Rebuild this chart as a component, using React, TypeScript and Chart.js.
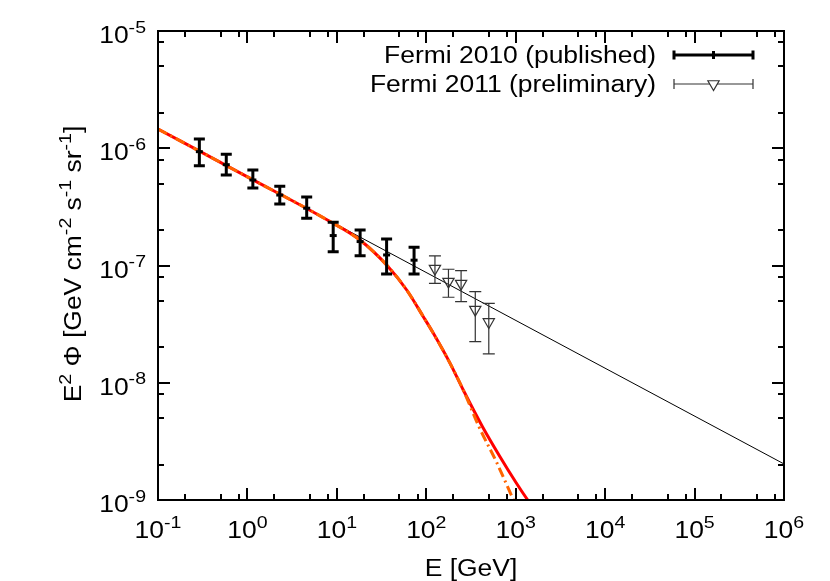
import React, { useEffect, useRef } from "react";
import { Chart, registerables } from "chart.js";
Chart.register(...registerables);

const FONT = '"Liberation Sans", Arial, Helvetica, sans-serif';
const FONT_SIZE = 23;
const STRETCH = 1.15;

// Fermi 2010 (published)
const fermi2010E = [0.29, 0.58, 1.15, 2.3, 4.6, 9.1, 18.2, 36, 73];
const fermi2010Flux = [9.35e-7, 7.24e-7, 5.36e-7, 3.99e-7, 3.08e-7, 1.8e-7, 1.6e-7, 1.23e-7, 1.11e-7];
const fermi2010Lo = [7.1e-7, 5.91e-7, 4.58e-7, 3.35e-7, 2.53e-7, 1.31e-7, 1.21e-7, 8.47e-8, 8.47e-8];
const fermi2010Hi = [1.2e-6, 8.88e-7, 6.53e-7, 4.73e-7, 3.84e-7, 2.34e-7, 2.01e-7, 1.68e-7, 1.43e-7];

// Fermi 2011 (preliminary)
const fermi2011E = [125, 177, 245, 353, 500];
const fermi2011Flux = [9.4e-8, 7.3e-8, 7.0e-8, 4.2e-8, 3.3e-8];
const fermi2011Lo = [7.05e-8, 5.36e-8, 4.91e-8, 2.24e-8, 1.76e-8];
const fermi2011Hi = [1.21e-7, 9.29e-8, 9.03e-8, 5.98e-8, 4.76e-8];

// thin black power law
const powerLawE = [0.1, 1e6];
const powerLawFlux = [1.46e-6, 2.03e-9];

// red solid model curve
const redCurveE = [0.1, 1, 8.4, 18.1, 37.5, 60.4, 92.6, 120, 184, 259, 425, 667, 1007, 1337, 1521];
const redCurveFlux = [1.46e-6, 5.7e-7, 2.37e-7, 1.65e-7, 9.77e-8, 6.18e-8, 3.66e-8, 2.64e-8, 1.47e-8, 8.67e-9, 4.22e-9, 2.34e-9, 1.41e-9, 1.02e-9, 8.9e-10];

// orange dash-dot model curve
const orangeCurveE = [0.1, 1, 8.4, 18.1, 37.5, 60.4, 92.6, 120, 184, 259, 388, 618, 841, 982];
const orangeCurveFlux = [1.46e-6, 5.7e-7, 2.37e-7, 1.65e-7, 9.77e-8, 6.18e-8, 3.66e-8, 2.64e-8, 1.47e-8, 8.67e-9, 4.22e-9, 2.06e-9, 1.22e-9, 9.33e-10];

const xTickExponents = [-1, 0, 1, 2, 3, 4, 5, 6];
const yTickExponents = [-9, -8, -7, -6, -5];
const minorTickMultipliers = [2, 5, 8];
const xAxisTitle = "E [GeV]";
const legendLabels = ["Fermi 2010 (published)", "Fermi 2011 (preliminary)"];

type Part = { t: string; sup?: boolean };

const yAxisTitleParts: Part[] = [
  { t: "E" }, { t: "2", sup: true }, { t: " \u03A6 [GeV cm" }, { t: "-2", sup: true },
  { t: " s" }, { t: "-1", sup: true }, { t: " sr" }, { t: "-1", sup: true }, { t: "]" },
];

function drawRich(ctx: CanvasRenderingContext2D, parts: Part[], x: number, y: number, align: string) {
  const supSize = Math.round(FONT_SIZE * 0.72);
  const widths = parts.map((p) => {
    ctx.font = `${p.sup ? supSize : FONT_SIZE}px ${FONT}`;
    return ctx.measureText(p.t).width * STRETCH;
  });
  const total = widths.reduce((a, b) => a + b, 0);
  let cx = align === "center" ? x - total / 2 : align === "right" ? x - total : x;
  ctx.textAlign = "left";
  ctx.textBaseline = "alphabetic";
  parts.forEach((p, i) => {
    ctx.font = `${p.sup ? supSize : FONT_SIZE}px ${FONT}`;
    ctx.save();
    ctx.translate(cx, p.sup ? y - FONT_SIZE * 0.45 : y);
    ctx.scale(STRETCH, 1);
    ctx.fillText(p.t, 0, 0);
    ctx.restore();
    cx += widths[i];
  });
}

const errorBarSets: Record<string, any> = {
  "Fermi 2010 (published)": { E: fermi2010E, lo: fermi2010Lo, hi: fermi2010Hi, color: "#000", width: 3, cap: 5.5 },
  "Fermi 2011 (preliminary)": { E: fermi2011E, lo: fermi2011Lo, hi: fermi2011Hi, color: "#333", width: 1.2, cap: 6 },
};

function triangleDown(ctx: CanvasRenderingContext2D, x: number, y: number, r: number) {
  ctx.beginPath();
  ctx.moveTo(x, y + r);
  ctx.lineTo(x - r * 0.866, y - r / 2);
  ctx.lineTo(x + r * 0.866, y - r / 2);
  ctx.closePath();
  ctx.stroke();
}

const framePlugin = {
  id: "frame",
  beforeDatasetDraw(chart: any, args: any) {
    const ds = chart.data.datasets[args.index];
    const set = errorBarSets[ds.label];
    if (!set) return;
    const ctx = chart.ctx as CanvasRenderingContext2D;
    const xs = chart.scales.x, ys = chart.scales.y;
    ctx.save();
    ctx.strokeStyle = set.color;
    ctx.lineWidth = set.width;
    ctx.lineCap = "butt";
    set.E.forEach((e: number, i: number) => {
      const px = xs.getPixelForValue(e);
      const y1 = ys.getPixelForValue(set.hi[i]);
      const y2 = ys.getPixelForValue(set.lo[i]);
      ctx.beginPath();
      ctx.moveTo(px, y1);
      ctx.lineTo(px, y2);
      ctx.moveTo(px - set.cap, y1);
      ctx.lineTo(px + set.cap, y1);
      ctx.moveTo(px - set.cap, y2);
      ctx.lineTo(px + set.cap, y2);
      ctx.stroke();
    });
    ctx.restore();
  },
  afterDraw(chart: any) {
    const ctx = chart.ctx as CanvasRenderingContext2D;
    const { left, right, top, bottom } = chart.chartArea;
    const xs = chart.scales.x, ys = chart.scales.y;
    ctx.save();
    ctx.strokeStyle = "#000";
    ctx.fillStyle = "#000";
    ctx.lineWidth = 2;
    ctx.strokeRect(left, top, right - left, bottom - top);
    const major = 12, minor = 6;
    xTickExponents.forEach((ex) => {
      const vals: [number, number][] = [[Math.pow(10, ex), major]];
      if (ex < 6) minorTickMultipliers.forEach((m) => vals.push([m * Math.pow(10, ex), minor]));
      vals.forEach(([v, len]) => {
        const px = Math.round(xs.getPixelForValue(v));
        ctx.beginPath();
        ctx.moveTo(px, bottom);
        ctx.lineTo(px, bottom - len);
        ctx.moveTo(px, top);
        ctx.lineTo(px, top + len);
        ctx.stroke();
      });
      drawRich(ctx, [{ t: "10" }, { t: String(ex), sup: true }], xs.getPixelForValue(Math.pow(10, ex)), 538, "center");
    });
    yTickExponents.forEach((ex) => {
      const vals: [number, number][] = [[Math.pow(10, ex), major]];
      if (ex < -5) minorTickMultipliers.forEach((m) => vals.push([m * Math.pow(10, ex), minor]));
      vals.forEach(([v, len]) => {
        const py = Math.round(ys.getPixelForValue(v));
        ctx.beginPath();
        ctx.moveTo(left, py);
        ctx.lineTo(left + len, py);
        ctx.moveTo(right, py);
        ctx.lineTo(right - len, py);
        ctx.stroke();
      });
      drawRich(ctx, [{ t: "10" }, { t: String(ex), sup: true }], 146, ys.getPixelForValue(Math.pow(10, ex)) + 12, "right");
    });
    drawRich(ctx, [{ t: xAxisTitle }], (left + right) / 2, 576, "center");
    ctx.save();
    ctx.translate(81, 264);
    ctx.rotate(-Math.PI / 2);
    drawRich(ctx, yAxisTitleParts, 0, 0, "center");
    ctx.restore();

    // legend
    drawRich(ctx, [{ t: legendLabels[0] }], 656, 63, "right");
    drawRich(ctx, [{ t: legendLabels[1] }], 656, 92, "right");
    const lx1 = 674, lx2 = 753, lxm = 713.5;
    ctx.strokeStyle = "#000";
    ctx.lineWidth = 3;
    ctx.beginPath();
    ctx.moveTo(lx1, 55); ctx.lineTo(lx2, 55);
    ctx.moveTo(lx1, 50.5); ctx.lineTo(lx1, 59.5);
    ctx.moveTo(lx2, 50.5); ctx.lineTo(lx2, 59.5);
    ctx.moveTo(lxm, 51); ctx.lineTo(lxm, 59);
    ctx.stroke();
    ctx.strokeStyle = "#333";
    ctx.lineWidth = 1.2;
    ctx.beginPath();
    ctx.moveTo(lx1, 84); ctx.lineTo(lx2, 84);
    ctx.moveTo(lx1, 79); ctx.lineTo(lx1, 89);
    ctx.moveTo(lx2, 79); ctx.lineTo(lx2, 89);
    ctx.stroke();
    ctx.fillStyle = "#fff";
    ctx.beginPath();
    ctx.moveTo(lxm, 84 + 6.5);
    ctx.lineTo(lxm - 5.6, 84 - 3.25);
    ctx.lineTo(lxm + 5.6, 84 - 3.25);
    ctx.closePath();
    ctx.fill();
    triangleDown(ctx, lxm, 84, 6.5);
    ctx.restore();
  },
};

const toPts = (xs: number[], ys: number[]) => xs.map((x, i) => ({ x, y: ys[i] }));

export default function App() {
  const ref = useRef<HTMLCanvasElement>(null);
  useEffect(() => {
    const canvas = ref.current!;
    const chart = new Chart(canvas, {
      type: "scatter",
      data: {
        datasets: [
          {
            label: "Fermi 2011 (preliminary)",
            data: toPts(fermi2011E, fermi2011Flux),
            pointStyle: "triangle",
            rotation: 180,
            pointRadius: 6.5,
            borderColor: "#333",
            borderWidth: 1.2,
            backgroundColor: "rgba(0,0,0,0)",
            showLine: false,
            order: 0,
          } as any,
          {
            label: "Fermi 2010 (published)",
            data: toPts(fermi2010E, fermi2010Flux),
            pointStyle: "line",
            pointRadius: 3.5,
            borderColor: "#000",
            borderWidth: 3,
            showLine: false,
            order: 1,
          } as any,
          {
            label: "model (dash-dot)",
            data: toPts(orangeCurveE, orangeCurveFlux),
            showLine: true,
            borderColor: "rgb(255,100,0)",
            borderWidth: 3,
            borderDash: [10, 4, 2, 4],
            pointRadius: 0,
            cubicInterpolationMode: "monotone",
            order: 2,
          } as any,
          {
            label: "model",
            data: toPts(redCurveE, redCurveFlux),
            showLine: true,
            borderColor: "rgb(255,0,0)",
            borderWidth: 3,
            pointRadius: 0,
            cubicInterpolationMode: "monotone",
            order: 3,
          } as any,
          {
            label: "power law",
            data: toPts(powerLawE, powerLawFlux),
            showLine: true,
            borderColor: "#000",
            borderWidth: 1,
            pointRadius: 0,
            order: 4,
          } as any,
        ],
      },
      options: {
        animation: false,
        responsive: false,
        devicePixelRatio: 1,
        layout: { padding: { left: 158, right: 46, top: 31, bottom: 81 } },
        scales: {
          x: { type: "logarithmic", min: 0.1, max: 1e6, display: false },
          y: { type: "logarithmic", min: 1e-9, max: 1e-5, display: false },
        },
        plugins: { legend: { display: false }, tooltip: { enabled: false } },
      },
      plugins: [framePlugin],
    });
    return () => chart.destroy();
  }, []);
  return (
    <div style={{ position: "fixed", left: 0, top: 0, width: 830, height: 581, background: "#fff" }}>
      <canvas ref={ref} width={830} height={581} />
    </div>
  );
}
